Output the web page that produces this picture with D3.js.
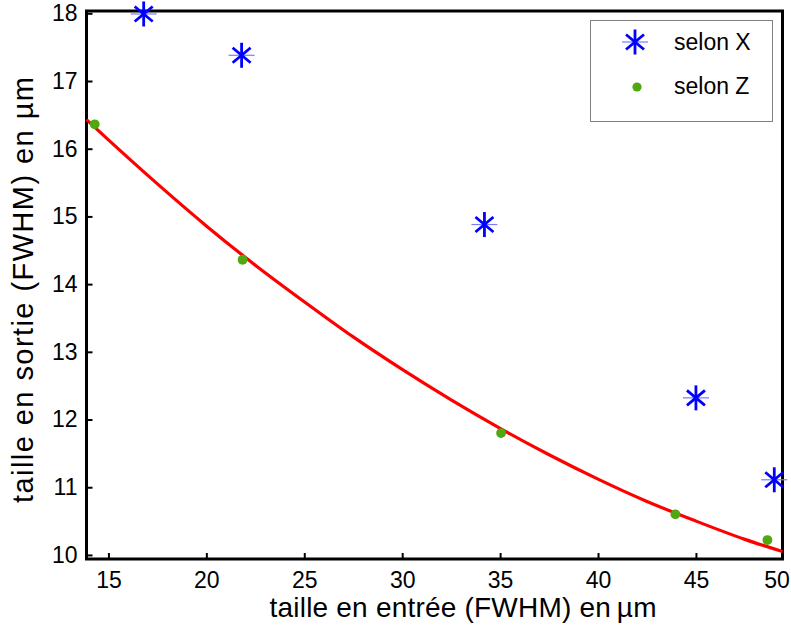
<!DOCTYPE html>
<html>
<head>
<meta charset="utf-8">
<script src="https://cdn.jsdelivr.net/npm/d3@7"></script>
<style>
  html, body { margin: 0; padding: 0; background: #fff; }
  svg { display: block; font-family: "Liberation Sans", Arial, Helvetica, sans-serif; }
</style>
</head>
<body>
<svg id="chart" width="791" height="627"></svg>
<script>
// ---- data ----
const xDomain = [13.88, 49.42];
const yDomain = [9.94, 18.034];
const xTicks = [15, 20, 25, 30, 35, 40, 45, 50];
const yTicks = [10, 11, 12, 13, 14, 15, 16, 17, 18];

// selon X (blue asterisks)
const selonX_x = [16.8, 21.8, 34.2, 45.0, 49.0];
const selonX_y = [17.99, 17.38, 14.88, 12.32, 11.11];

// selon Z (green dots)
const selonZ_x = [14.3, 21.85, 35.05, 43.95, 48.65];
const selonZ_y = [16.36, 14.36, 11.80, 10.60, 10.22];

// red fitted curve
const fitX = [13.88, 15, 17.5, 20, 22.5, 25, 27.5, 30, 32.5, 35, 37.5, 40, 42.5, 45, 47.5, 49.42];
const fitY = [16.43, 16.13, 15.48, 14.86, 14.28, 13.74, 13.22, 12.74, 12.29, 11.87, 11.48, 11.12, 10.79, 10.50, 10.23, 10.05];

const legendLabels = ["selon X", "selon Z"];
const xTitle = "taille en entrée (FWHM) en\u2009µm";
const yTitle = "taille en sortie (FWHM) en µm";

// ---- layout ----
const L = 86.5, R = 782.5, T = 11, B = 559;
const svg = d3.select("#chart");

const x = d3.scaleLinear().domain(xDomain).range([L, R]).clamp(true);
const y = d3.scaleLinear().domain(yDomain).range([B, T]);

// axes
const xAxis = d3.axisBottom(x).tickValues(xTicks).tickSize(-6).tickSizeOuter(0).tickPadding(13)
  .tickFormat(d3.format("d"));
const yAxis = d3.axisLeft(y).tickValues(yTicks).tickSize(-6).tickSizeOuter(0).tickPadding(9)
  .tickFormat(d3.format("d"));

const gx = svg.append("g").attr("transform", `translate(0,${B})`).call(xAxis);
const gy = svg.append("g").attr("transform", `translate(${L},0)`).call(yAxis);
[gx, gy].forEach(g => {
  g.select(".domain").remove();
  g.selectAll(".tick line").attr("stroke", "#000").attr("stroke-width", 2);
  g.selectAll(".tick text").attr("fill", "#000").style("font-size", "23px")
    .style("font-family", "'Liberation Sans', Arial, sans-serif");
});
gx.selectAll(".tick text").filter(d => d === 50).attr("dx", -6);

// frame
svg.append("rect").attr("x", L).attr("y", T).attr("width", R - L).attr("height", B - T)
  .attr("fill", "none").attr("stroke", "#000").attr("stroke-width", 3);

// titles
svg.append("text").attr("x", 463).attr("y", 617).attr("text-anchor", "middle")
  .attr("textLength", 387).attr("lengthAdjust", "spacing")
  .style("font-size", "28px").attr("fill", "#000").text(xTitle);
svg.append("text").attr("transform", "translate(33,290) rotate(-90)").attr("text-anchor", "middle")
  .attr("textLength", 426).attr("lengthAdjust", "spacing")
  .style("font-size", "29px").attr("fill", "#000").text(yTitle);

// fit curve
const fitData = fitX.map((v, i) => [v, fitY[i]]);
svg.append("path").datum(fitData)
  .attr("fill", "none").attr("stroke", "#ff0000").attr("stroke-width", 3.2)
  .attr("stroke-linejoin", "round")
  .attr("d", d3.line().x(d => x(d[0])).y(d => y(d[1])).curve(d3.curveMonotoneX));

// asterisk marker
function asterisk(g, cx, cy) {
  const m = g.append("g").attr("transform", `translate(${cx},${cy})`);
  m.append("line").attr("x1", -13).attr("x2", 13).attr("y1", 0).attr("y2", 0)
    .attr("stroke", "#7a7aff").attr("stroke-width", 1.2);
  m.append("line").attr("x1", 0).attr("x2", 0).attr("y1", -12.5).attr("y2", 12.5)
    .attr("stroke", "#0000ff").attr("stroke-width", 2.8);
  m.append("line").attr("x1", -9).attr("x2", 9).attr("y1", -7.5).attr("y2", 7.5)
    .attr("stroke", "#0000ff").attr("stroke-width", 2.8);
  m.append("line").attr("x1", -9).attr("x2", 9).attr("y1", 7.5).attr("y2", -7.5)
    .attr("stroke", "#0000ff").attr("stroke-width", 2.8);
}
const green = "#4fa80f";

// green dots
const zData = selonZ_x.map((v, i) => [v, selonZ_y[i]]);
svg.append("g").selectAll("circle").data(zData).join("circle")
  .attr("cx", d => x(d[0])).attr("cy", d => y(d[1])).attr("r", 4.9).attr("fill", green);

// blue asterisks
const xData = selonX_x.map((v, i) => [v, selonX_y[i]]);
const gA = svg.append("g");
xData.forEach(d => asterisk(gA, x(d[0]), y(d[1])));

// legend
const lg = svg.append("g");
lg.append("rect").attr("x", 590.5).attr("y", 20.5).attr("width", 182).attr("height", 101)
  .attr("fill", "#fff").attr("stroke", "#808080").attr("stroke-width", 1);
asterisk(lg, 635, 42);
lg.append("circle").attr("cx", 637).attr("cy", 87).attr("r", 4.6).attr("fill", green);
lg.selectAll("text").data(legendLabels).join("text")
  .attr("x", 674).attr("y", (d, i) => 50 + i * 44)
  .style("font-size", "23px").attr("fill", "#000").text(d => d);
</script>
</body>
</html>
